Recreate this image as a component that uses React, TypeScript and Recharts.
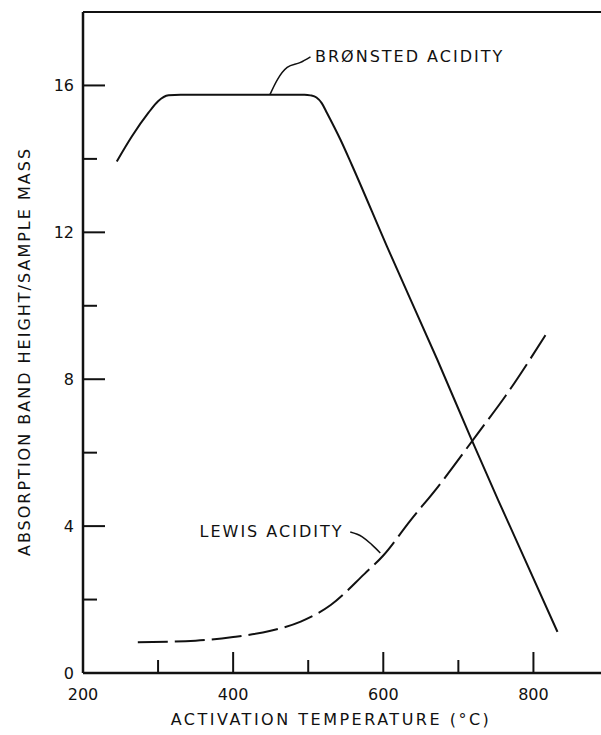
import { Line, LineChart, ReferenceDot, ReferenceLine, XAxis, YAxis } from "recharts";

// activation temperature (°C) vs absorption band height / sample mass
const bronstedTemp = [245, 265, 287, 300, 314, 330, 495, 503, 511, 518, 525, 543, 558, 605, 672, 716, 753, 832];
const bronstedValue = [13.93, 14.61, 15.25, 15.57, 15.73, 15.75, 15.75, 15.73, 15.67, 15.52, 15.25, 14.52, 13.84, 11.61, 8.53, 6.43, 4.71, 1.12];

const lewisTemp = [273, 350, 400, 450, 490, 530, 575, 600, 636, 672, 725, 763, 816];
const lewisValue = [0.84, 0.88, 0.98, 1.15, 1.4, 1.85, 2.7, 3.2, 4.15, 5.05, 6.5, 7.55, 9.2];

// label leaders
const bronstedLeaderTemp = [449, 459, 472, 489, 503];
const bronstedLeaderValue = [15.75, 16.16, 16.49, 16.62, 16.78];
const lewisLeaderTemp = [556, 572, 585, 596];
const lewisLeaderValue = [3.84, 3.71, 3.49, 3.27];

const xTicks = [200, 300, 400, 500, 600, 700, 800];
const xLabelled = [200, 400, 600, 800];
const yTicks = [0, 2, 4, 6, 8, 10, 12, 14, 16];
const yLabelled = [0, 4, 8, 12, 16];

const toRows = (t: number[], v: number[]) => t.map((x, i) => ({ t: x, v: v[i] }));

const INK = "#111";
const FONT = "'DejaVu Sans', sans-serif";
const X_MARGIN = 6;
const Y_MARGIN = 6;

function XTick(props: any) {
  const { x, y, payload } = props;
  const v = payload.value;
  const axisY = y - X_MARGIN;
  const major = xLabelled.includes(v);
  return (
    <g>
      {v !== 200 && (
        <line x1={x} x2={x} y1={axisY} y2={axisY - (major ? 21 : 13)} stroke={INK} strokeWidth={2} />
      )}
      {major && (
        <text x={x} y={axisY + 27} textAnchor="middle" fontFamily={FONT} fontSize={16} fill={INK}>
          {v}
        </text>
      )}
    </g>
  );
}

function YTick(props: any) {
  const { x, y, payload } = props;
  const v = payload.value;
  const axisX = x + Y_MARGIN;
  const major = yLabelled.includes(v);
  return (
    <g>
      {v !== 0 && (
        <line x1={axisX} x2={axisX + (major ? 22 : 14)} y1={y} y2={y} stroke={INK} strokeWidth={2} />
      )}
      {major && (
        <text x={axisX - 9} y={y + 6} textAnchor="end" fontFamily={FONT} fontSize={16} fill={INK}>
          {v}
        </text>
      )}
    </g>
  );
}

const textStyle = { fontFamily: FONT, fontSize: 16, fill: INK, letterSpacing: 2 };

function YTitle(props: any) {
  const { viewBox } = props;
  const cx = 24;
  const cy = viewBox.y + viewBox.height / 2 + 9;
  return (
    <text
      x={cx}
      y={cy}
      transform={`rotate(-90 ${cx} ${cy})`}
      textAnchor="middle"
      dominantBaseline="central"
      style={textStyle}
    >
      ABSORPTION BAND HEIGHT/SAMPLE MASS
    </text>
  );
}

export default function App() {
  return (
    <div style={{ position: "absolute", left: 0, top: 0, background: "#fff" }}>
      <LineChart width={601} height={735} margin={{ top: 12, right: 0, left: 0, bottom: 0 }}>
        <XAxis
          dataKey="t"
          type="number"
          domain={[200, 890]}
          ticks={xTicks}
          tickSize={0}
          tickMargin={X_MARGIN}
          tick={<XTick />}
          height={62}
          axisLine={{ stroke: INK, strokeWidth: 2.5 }}
          label={{
            value: "ACTIVATION TEMPERATURE (°C)",
            position: "insideBottom",
            offset: 10,
            dx: -11,
            style: { ...textStyle, letterSpacing: 2.5 },
          }}
        />
        <YAxis
          dataKey="v"
          type="number"
          domain={[0, 18]}
          ticks={yTicks}
          tickSize={0}
          tickMargin={Y_MARGIN}
          tick={<YTick />}
          width={83}
          axisLine={{ stroke: INK, strokeWidth: 2.5 }}
          label={{ content: <YTitle /> }}
        />
        <ReferenceLine y={18} stroke={INK} strokeWidth={2} />
        <Line
          data={toRows(bronstedTemp, bronstedValue)}
          dataKey="v"
          type="monotone"
          stroke={INK}
          strokeWidth={2}
          dot={false}
          isAnimationActive={false}
        />
        <Line
          data={toRows(lewisTemp, lewisValue)}
          dataKey="v"
          type="monotone"
          stroke={INK}
          strokeWidth={2}
          strokeDasharray="30 7"
          dot={false}
          isAnimationActive={false}
        />
        <Line
          data={toRows(bronstedLeaderTemp, bronstedLeaderValue)}
          dataKey="v"
          type="monotone"
          stroke={INK}
          strokeWidth={1.5}
          dot={false}
          isAnimationActive={false}
        />
        <Line
          data={toRows(lewisLeaderTemp, lewisLeaderValue)}
          dataKey="v"
          type="monotone"
          stroke={INK}
          strokeWidth={1.5}
          dot={false}
          isAnimationActive={false}
        />
        <ReferenceDot
          x={509}
          y={16.78}
          r={0}
          fill="none"
          stroke="none"
          label={{ value: "BRØNSTED ACIDITY", position: "right", offset: 0, style: textStyle }}
        />
        <ReferenceDot
          x={547}
          y={3.87}
          r={0}
          fill="none"
          stroke="none"
          label={{ value: "LEWIS ACIDITY", position: "left", offset: 0, style: textStyle }}
        />
      </LineChart>
    </div>
  );
}
